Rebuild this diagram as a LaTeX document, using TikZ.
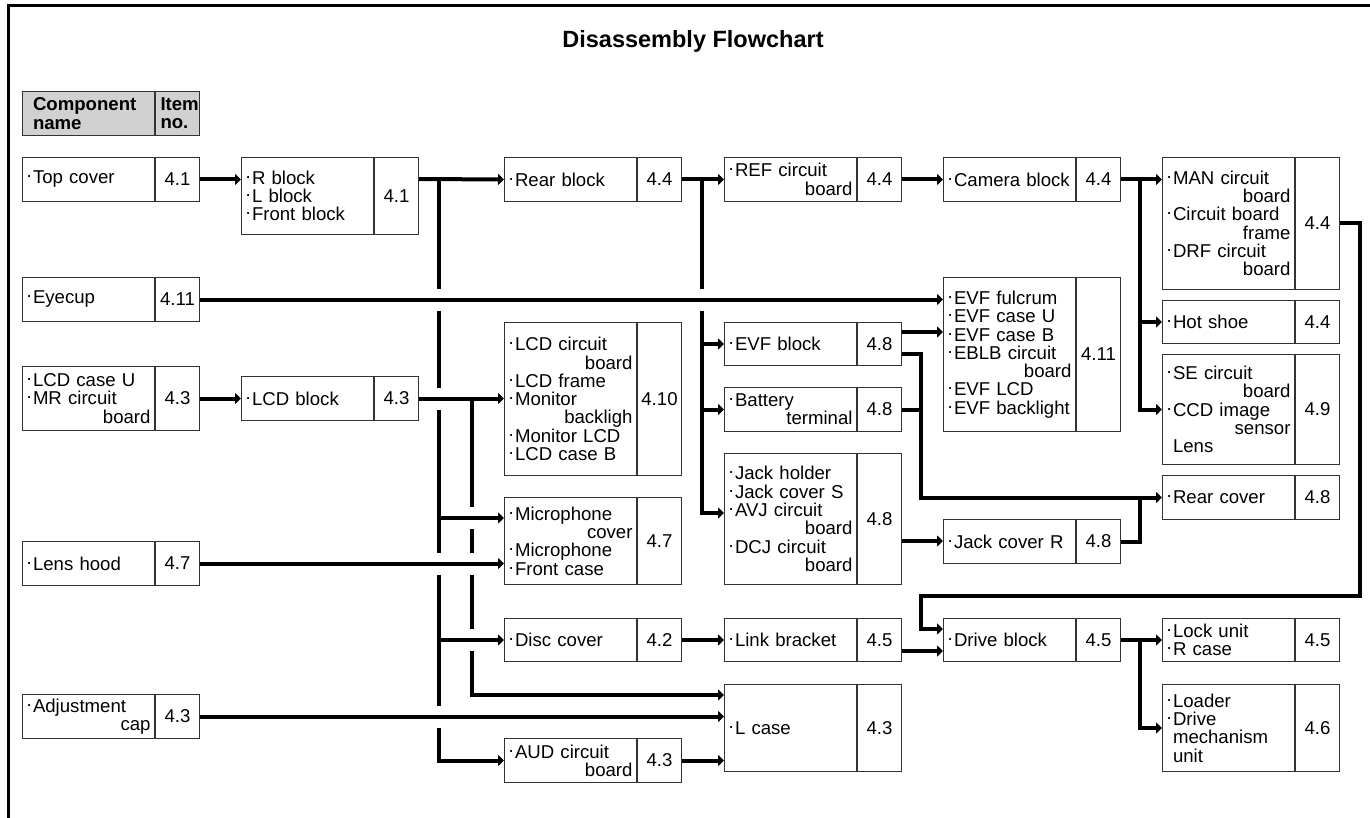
\documentclass[tikz,border=0pt]{standalone}
\usepackage{fontspec}
\setmainfont{Liberation Sans}
\usetikzlibrary{arrows.meta,positioning}
\newcommand{\bl}{\makebox[6.5pt][l]{\raisebox{6pt}{.}}}
\newcommand{\ind}{\hspace*{6.5pt}}
\newcommand{\rgt}[2][14pt]{\hspace*{\fill}#2\hspace*{#1}}
\tikzset{
  cname/.style={draw=black!80, line width=1pt, anchor=north west, minimum width=132pt, text width=124pt, minimum height=#1, inner xsep=4pt, inner ysep=0pt, align=left, font=\fontsize{18.6}{18.3}\selectfont},
  cno/.style={draw=black!80, line width=1pt, minimum width=44pt, minimum height=#1, inner sep=0pt, font=\fontsize{18.6}{18.3}\selectfont},
  hdr/.style={fill=black!18, font=\fontsize{18.6}{18.3}\selectfont\bfseries},
  ttl/.style={font=\fontsize{23.5}{28}\selectfont\bfseries},
  ln/.style={line width=4pt},
  arr/.style={-{Triangle[length=6pt, width=11pt]}, line width=4pt},
  xarr/.style={arr, preaction={draw=white, -, line width=22pt, shorten <=3pt, shorten >=8pt}},
  frm/.style={line width=3pt},
}

\begin{document}
\begin{tikzpicture}[x=1pt, y=-1pt]
\useasboundingbox (0,0) rectangle (1370,818);

\draw[frm] (8.5,818) -- (8.5,5.5) -- (1370,5.5);
\node[ttl] (title) at (693,41) {Disassembly Flowchart};

% header
\node[cname=44, hdr] (hdr) at (22,91) {\ind Component\\\ind name};
\node[cno=44, hdr, align=left, text width=34pt, inner xsep=5pt, right=0pt of hdr] (hdr-n) {Item\\no.};

% column 1
\node[cname=44] (topcov) at (22,157) {\bl Top cover};
\node[cno=44, right=0pt of topcov] (topcov-n) {4.1};
\node[cname=44] (eyecup) at (22,277) {\bl Eyecup};
\node[cno=44, right=0pt of eyecup] (eyecup-n) {4.11};
\node[cname=64] (lcdcu) at (22,366) {\bl LCD case U\\\bl MR circuit\\\rgt{board}};
\node[cno=64, right=0pt of lcdcu] (lcdcu-n) {4.3};
\node[cname=44] (lenshd) at (22,541) {\bl Lens hood};
\node[cno=44, right=0pt of lenshd] (lenshd-n) {4.7};
\node[cname=44] (adjcap) at (22,694) {\bl Adjustment\\\rgt[32pt]{cap}};
\node[cno=44, right=0pt of adjcap] (adjcap-n) {4.3};

% column 2
\node[cname=77] (rblk) at (241,157) {\bl R block\\\bl L block\\\bl Front block};
\node[cno=77, right=0pt of rblk] (rblk-n) {4.1};
\node[cname=44] (lcdblk) at (241,376) {\bl LCD block};
\node[cno=44, right=0pt of lcdblk] (lcdblk-n) {4.3};

% column 3
\node[cname=44] (rearblk) at (504,157) {\bl Rear block};
\node[cno=44, right=0pt of rearblk] (rearblk-n) {4.4};
\node[cname=153] (lcdcb) at (504,322) {\bl LCD circuit\\\rgt{board}\\\bl LCD frame\\\bl Monitor\\\rgt{backligh}\\\bl Monitor LCD\\\bl LCD case B};
\node[cno=153, right=0pt of lcdcb] (lcdcb-n) {4.10};
\node[cname=87] (mic) at (504,497) {\bl Microphone\\\rgt{cover}\\\bl Microphone\\\bl Front case};
\node[cno=87, right=0pt of mic] (mic-n) {4.7};
\node[cname=43] (disc) at (504,618) {\bl Disc cover};
\node[cno=43, right=0pt of disc] (disc-n) {4.2};
\node[cname=44] (aud) at (504,738) {\bl AUD circuit\\\rgt{board}};
\node[cno=44, right=0pt of aud] (aud-n) {4.3};

% column 4
\node[cname=44] (ref) at (724,157) {\bl REF circuit\\\rgt{board}};
\node[cno=44, right=0pt of ref] (ref-n) {4.4};
\node[cname=43] (evfblk) at (724,322) {\bl EVF block};
\node[cno=43, right=0pt of evfblk] (evfblk-n) {4.8};
\node[cname=44] (batt) at (724,387) {\bl Battery\\\rgt[19pt]{terminal}};
\node[cno=44, right=0pt of batt] (batt-n) {4.8};
\node[cname=131] (jack) at (724,453) {\bl Jack holder\\\bl Jack cover S\\\bl AVJ circuit\\\rgt{board}\\\bl DCJ circuit\\\rgt{board}};
\node[cno=131, right=0pt of jack] (jack-n) {4.8};
\node[cname=43] (link) at (724,618) {\bl Link bracket};
\node[cno=43, right=0pt of link] (link-n) {4.5};
\node[cname=87] (lcase) at (724,684) {\bl L case};
\node[cno=87, right=0pt of lcase] (lcase-n) {4.3};

% column 5
\node[cname=44] (cam) at (943,157) {\bl Camera block};
\node[cno=44, right=0pt of cam] (cam-n) {4.4};
\node[cname=154] (evf) at (943,277) {\bl EVF fulcrum\\\bl EVF case U\\\bl EVF case B\\\bl EBLB circuit\\\rgt{board}\\\bl EVF LCD\\\bl EVF backlight};
\node[cno=154, right=0pt of evf] (evf-n) {4.11};
\node[cname=44] (jackr) at (943,519) {\bl Jack cover R};
\node[cno=44, right=0pt of jackr] (jackr-n) {4.8};
\node[cname=43] (drive) at (943,618) {\bl Drive block};
\node[cno=43, right=0pt of drive] (drive-n) {4.5};

% column 6
\node[cname=132] (man) at (1162,157) {\bl MAN circuit\\\rgt{board}\\\bl Circuit board\\\rgt{frame}\\\bl DRF circuit\\\rgt{board}};
\node[cno=132, right=0pt of man] (man-n) {4.4};
\node[cname=43] (hot) at (1162,300) {\bl Hot shoe};
\node[cno=43, right=0pt of hot] (hot-n) {4.4};
\node[cname=110] (se) at (1162,354) {\bl SE circuit\\\rgt{board}\\\bl CCD image\\\rgt[6pt]{sensor}\\\ind Lens};
\node[cno=110, right=0pt of se] (se-n) {4.9};
\node[cname=44] (rearcov) at (1162,475) {\bl Rear cover};
\node[cno=44, right=0pt of rearcov] (rearcov-n) {4.8};
\node[cname=43] (lock) at (1162,618) {\bl Lock unit\\\bl R case};
\node[cno=43, right=0pt of lock] (lock-n) {4.5};
\node[cname=87] (loader) at (1162,684) {\bl Loader\\\bl Drive\\\ind mechanism\\\ind unit};
\node[cno=87, right=0pt of loader] (loader-n) {4.6};

% junctions and entry points
\coordinate (jr) at (439,179);
\coordinate (jq) at (702,179);
\coordinate (jl) at (472,398);
\coordinate (jv) at (921,354);
\coordinate (jc) at (1140,179);
\coordinate (jm) at (1360,596);
\coordinate (jd) at (1140,639.5);
\coordinate (mic-a) at ([yshift=-21pt]mic.north west);
\coordinate (jack-a) at ([yshift=-60pt]jack.north west);
\coordinate (jack-b) at ([yshift=-88pt]jack-n.north east);
\coordinate (evf-a) at ([yshift=-10pt]evfblk-n.north east);
\coordinate (evf-b) at ([yshift=-32pt]evfblk-n.north east);
\coordinate (drv-a) at ([yshift=-11pt]drive.north west);
\coordinate (drv-b) at ([yshift=-33pt]drive.north west);
\coordinate (lc-a) at ([yshift=-11pt]lcase.north west);

% top row
\draw[arr] (topcov-n.east) -- (topcov-n.east -| rblk.west);
\draw[arr] (rblk-n.east |- jr) -- (rearblk.west);
\draw[arr] (rearblk-n.east) -- (ref.west);
\draw[arr] (ref-n.east) -- (cam.west);
\draw[arr] (cam-n.east) -- (cam-n.east -| man.west);

% trunks
\draw[arr] (jr) |- (aud.west);
\draw[arr] (jq) |- (jack-a);
\draw[arr] (jq |- evfblk.west) -- (evfblk.west);
\draw[arr] (jq |- batt.west) -- (batt.west);
\draw[arr] (jc) |- (se.west);
\draw[arr] (jc |- hot.west) -- (hot.west);

% LCD side, with bridges over the trunks
\draw[arr] (lcdcu-n.east) -- (lcdcu-n.east -| lcdblk.west);
\draw[xarr] (lcdblk-n.east) -- (lcdblk-n.east -| lcdcb.west);
\draw[arr] (jl) |- (lc-a);
\draw[xarr] (jr |- mic-a) -- (mic-a);
\draw[xarr] (jr |- disc.west) -- (disc.west);
\draw[xarr] (lenshd-n.east) -- (lenshd-n.east -| mic.west);
\draw[xarr] (adjcap-n.east) -- (adjcap-n.east -| lcase.west);
\draw[xarr] (eyecup-n.east) -- (eyecup-n.east -| evf.west);
\draw[arr] (disc-n.east) -- (link.west);
\draw[arr] (aud-n.east) -- (aud-n.east -| lcase.west);

% EVF and rear cover
\draw[arr] (evf-a) -- (evf-a -| evf.west);
\draw[arr] (evf-b) -- (jv) |- (rearcov.west);
\draw[ln] (batt-n.east) -- (batt-n.east -| jv);
\draw[arr] (jack-b) -- (jack-b -| jackr.west);
\draw[ln] (jackr-n.east) -| (jc |- rearcov.west);

% drive block
\draw[arr] (man-n.east) -| (jm) -| (drv-a -| jv) -- (drv-a);
\draw[arr] (link-n.east |- drv-b) -- (drv-b);
\draw[arr] (drive-n.east) -- (lock.west);
\draw[arr] (jd) |- (loader.west);

\end{tikzpicture}
\end{document}
